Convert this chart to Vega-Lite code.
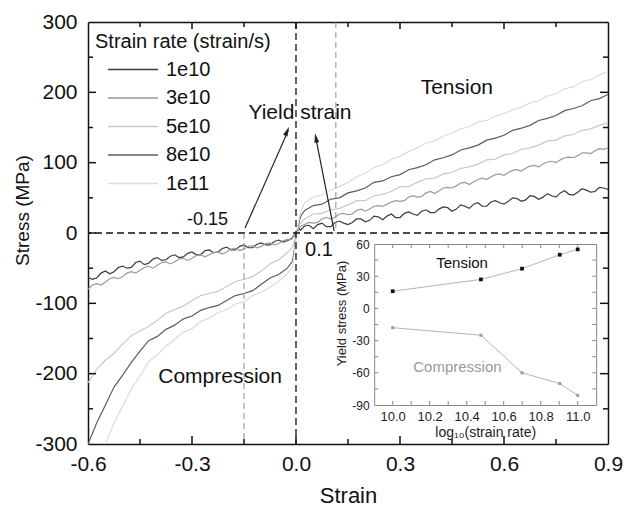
{
  "$schema": "https://vega.github.io/schema/vega-lite/v6.json",
  "width": 520,
  "height": 422,
  "autosize": "none",
  "padding": {"left": 88, "top": 22, "right": 18, "bottom": 62},
  "background": "white",
  "config": {
    "view": {"stroke": null},
    "font": "Liberation Sans",
    "axis": {"grid": false, "ticks": false, "labelFont": "Liberation Sans", "titleFont": "Liberation Sans", "titleFontWeight": "normal", "labelFlush": false, "labelOverlap": false, "labelBound": false},
    "legend": {"labelFont": "Liberation Sans", "titleFont": "Liberation Sans"},
    "tick": {"opacity": 1}
  },
  "datasets": {
    "curves": [
      {"x": -0.6, "1e10": -63, "3e10": -80, "5e10": -213, "8e10": -300, "1e11": -355},
      {"x": -0.5875, "1e10": -66, "3e10": -74},
      {"x": -0.575, "1e10": -64, "3e10": -72, "5e10": -194, "8e10": -270, "1e11": -326},
      {"x": -0.5625, "1e10": -57, "3e10": -74},
      {"x": -0.55, "1e10": -54, "3e10": -70, "5e10": -181, "8e10": -245, "1e11": -300},
      {"x": -0.5375, "1e10": -58, "3e10": -65},
      {"x": -0.525, "1e10": -55, "3e10": -63, "5e10": -171, "8e10": -219, "1e11": -270},
      {"x": -0.5125, "1e10": -49, "3e10": -65},
      {"x": -0.5, "1e10": -47, "3e10": -62, "5e10": -158, "8e10": -202, "1e11": -246},
      {"x": -0.4875, "1e10": -50, "3e10": -57},
      {"x": -0.475, "1e10": -49, "3e10": -55, "5e10": -146, "8e10": -184, "1e11": -222},
      {"x": -0.4625, "1e10": -42, "3e10": -57},
      {"x": -0.45, "1e10": -40, "3e10": -53, "5e10": -139, "8e10": -168, "1e11": -203},
      {"x": -0.4375, "1e10": -45, "3e10": -49},
      {"x": -0.425, "1e10": -43, "3e10": -47, "5e10": -133, "8e10": -153, "1e11": -183},
      {"x": -0.4125, "1e10": -37, "3e10": -50},
      {"x": -0.4, "1e10": -35, "3e10": -46, "5e10": -124, "8e10": -147, "1e11": -173},
      {"x": -0.3875, "1e10": -39, "3e10": -42},
      {"x": -0.375, "1e10": -38, "3e10": -41, "5e10": -114, "8e10": -137, "1e11": -161},
      {"x": -0.3625, "1e10": -33, "3e10": -44},
      {"x": -0.35, "1e10": -31, "3e10": -41, "5e10": -109, "8e10": -131, "1e11": -151},
      {"x": -0.3375, "1e10": -35, "3e10": -37},
      {"x": -0.325, "1e10": -34, "3e10": -36, "5e10": -104, "8e10": -122, "1e11": -141},
      {"x": -0.3125, "1e10": -29, "3e10": -39},
      {"x": -0.3, "1e10": -27, "3e10": -36, "5e10": -96, "8e10": -118, "1e11": -136},
      {"x": -0.2875, "1e10": -31, "3e10": -32},
      {"x": -0.275, "1e10": -31, "3e10": -31, "5e10": -89, "8e10": -110, "1e11": -126},
      {"x": -0.2625, "1e10": -25, "3e10": -34},
      {"x": -0.25, "1e10": -24, "3e10": -31, "5e10": -86, "8e10": -106, "1e11": -121},
      {"x": -0.2375, "1e10": -28, "3e10": -28},
      {"x": -0.225, "1e10": -27, "3e10": -27, "5e10": -83, "8e10": -103, "1e11": -113},
      {"x": -0.2125, "1e10": -22, "3e10": -30},
      {"x": -0.2, "1e10": -20, "3e10": -27, "5e10": -76, "8e10": -96, "1e11": -109},
      {"x": -0.1875, "1e10": -24, "3e10": -23},
      {"x": -0.175, "1e10": -24, "3e10": -22, "5e10": -69, "8e10": -89, "1e11": -101},
      {"x": -0.1625, "1e10": -19, "3e10": -25},
      {"x": -0.15, "1e10": -17, "3e10": -23, "5e10": -66, "8e10": -86, "1e11": -98},
      {"x": -0.1375, "1e10": -21, "3e10": -19},
      {"x": -0.125, "1e10": -21, "3e10": -18, "5e10": -62, "8e10": -82, "1e11": -89},
      {"x": -0.1125, "1e10": -16, "3e10": -21},
      {"x": -0.1, "1e10": -14, "3e10": -19, "5e10": -54, "8e10": -73, "1e11": -84},
      {"x": -0.0875, "1e10": -17, "3e10": -15},
      {"x": -0.075, "1e10": -17, "3e10": -14, "5e10": -44, "8e10": -64, "1e11": -77},
      {"x": -0.0625, "1e10": -12, "3e10": -17},
      {"x": -0.05, "1e10": -10, "3e10": -15, "5e10": -38, "8e10": -59, "1e11": -69},
      {"x": -0.0375, "1e10": -13, "3e10": -11},
      {"x": -0.025, "1e10": -11, "3e10": -9, "5e10": -28, "8e10": -50, "1e11": -58},
      {"x": -0.0125, "1e10": -8, "3e10": -9},
      {"x": -0.01, "1e10": -6, "3e10": -7, "5e10": -20, "8e10": -40, "1e11": -48},
      {"x": -0.005, "1e10": -3, "3e10": -4, "5e10": -12, "8e10": -25, "1e11": -30},
      {"x": 0, "1e10": 0, "3e10": 0, "5e10": -3, "8e10": -3, "1e11": -5},
      {"x": 0.005, "1e10": 3, "3e10": 4, "5e10": 6, "8e10": 8, "1e11": 10},
      {"x": 0.01, "1e10": 6, "3e10": 8, "5e10": 12, "8e10": 18, "1e11": 22},
      {"x": 0.0125, "1e10": 4, "3e10": 9},
      {"x": 0.015, "1e10": 5, "3e10": 10, "5e10": 15, "8e10": 25, "1e11": 32},
      {"x": 0.025, "1e10": 10, "3e10": 12, "5e10": 20, "8e10": 32, "1e11": 43},
      {"x": 0.0375, "1e10": 11, "3e10": 15},
      {"x": 0.05, "1e10": 6, "3e10": 14, "5e10": 27, "8e10": 39, "1e11": 51},
      {"x": 0.0625, "1e10": 12, "3e10": 15},
      {"x": 0.075, "1e10": 14, "3e10": 20, "5e10": 28, "8e10": 41, "1e11": 54},
      {"x": 0.0875, "1e10": 9, "3e10": 22},
      {"x": 0.1, "1e10": 9, "3e10": 20, "5e10": 33, "8e10": 48, "1e11": 61},
      {"x": 0.1125, "1e10": 15, "3e10": 22},
      {"x": 0.125, "1e10": 17, "3e10": 27, "5e10": 35, "8e10": 50, "1e11": 66},
      {"x": 0.1375, "1e10": 14, "3e10": 28},
      {"x": 0.15, "1e10": 12, "3e10": 26, "5e10": 40, "8e10": 57, "1e11": 72},
      {"x": 0.1625, "1e10": 15, "3e10": 27},
      {"x": 0.175, "1e10": 20, "3e10": 32, "5e10": 46, "8e10": 60, "1e11": 80},
      {"x": 0.1875, "1e10": 20, "3e10": 34},
      {"x": 0.2, "1e10": 16, "3e10": 31, "5e10": 46, "8e10": 64, "1e11": 85},
      {"x": 0.2125, "1e10": 18, "3e10": 34},
      {"x": 0.225, "1e10": 24, "3e10": 38, "5e10": 53, "8e10": 72, "1e11": 93},
      {"x": 0.2375, "1e10": 23, "3e10": 39},
      {"x": 0.25, "1e10": 19, "3e10": 38, "5e10": 55, "8e10": 74, "1e11": 97},
      {"x": 0.2625, "1e10": 24, "3e10": 41},
      {"x": 0.275, "1e10": 27, "3e10": 44, "5e10": 59, "8e10": 80, "1e11": 105},
      {"x": 0.2875, "1e10": 22, "3e10": 46},
      {"x": 0.3, "1e10": 22, "3e10": 45, "5e10": 66, "8e10": 83, "1e11": 109},
      {"x": 0.3125, "1e10": 28, "3e10": 46},
      {"x": 0.325, "1e10": 30, "3e10": 51, "5e10": 66, "8e10": 90, "1e11": 116},
      {"x": 0.3375, "1e10": 27, "3e10": 53},
      {"x": 0.35, "1e10": 25, "3e10": 51, "5e10": 72, "8e10": 93, "1e11": 121},
      {"x": 0.3625, "1e10": 31, "3e10": 52},
      {"x": 0.375, "1e10": 33, "3e10": 57, "5e10": 77, "8e10": 97, "1e11": 128},
      {"x": 0.3875, "1e10": 29, "3e10": 59},
      {"x": 0.4, "1e10": 29, "3e10": 56, "5e10": 78, "8e10": 104, "1e11": 131},
      {"x": 0.4125, "1e10": 34, "3e10": 60},
      {"x": 0.425, "1e10": 37, "3e10": 64, "5e10": 84, "8e10": 107, "1e11": 138},
      {"x": 0.4375, "1e10": 36, "3e10": 65},
      {"x": 0.45, "1e10": 31, "3e10": 64, "5e10": 86, "8e10": 111, "1e11": 142},
      {"x": 0.4625, "1e10": 34, "3e10": 67},
      {"x": 0.475, "1e10": 40, "3e10": 71, "5e10": 92, "8e10": 118, "1e11": 148},
      {"x": 0.4875, "1e10": 38, "3e10": 72},
      {"x": 0.5, "1e10": 35, "3e10": 69, "5e10": 94, "8e10": 121, "1e11": 151},
      {"x": 0.5125, "1e10": 41, "3e10": 73},
      {"x": 0.525, "1e10": 43, "3e10": 76, "5e10": 98, "8e10": 125, "1e11": 158},
      {"x": 0.5375, "1e10": 38, "3e10": 78},
      {"x": 0.55, "1e10": 38, "3e10": 76, "5e10": 104, "8e10": 132, "1e11": 160},
      {"x": 0.5625, "1e10": 44, "3e10": 80},
      {"x": 0.575, "1e10": 46, "3e10": 83, "5e10": 105, "8e10": 135, "1e11": 166},
      {"x": 0.5875, "1e10": 43, "3e10": 84},
      {"x": 0.6, "1e10": 41, "3e10": 82, "5e10": 111, "8e10": 139, "1e11": 170},
      {"x": 0.6125, "1e10": 45, "3e10": 86},
      {"x": 0.625, "1e10": 50, "3e10": 89, "5e10": 113, "8e10": 146, "1e11": 175},
      {"x": 0.6375, "1e10": 49, "3e10": 90},
      {"x": 0.65, "1e10": 45, "3e10": 88, "5e10": 119, "8e10": 149, "1e11": 179},
      {"x": 0.6625, "1e10": 47, "3e10": 92},
      {"x": 0.675, "1e10": 53, "3e10": 95, "5e10": 121, "8e10": 153, "1e11": 185},
      {"x": 0.6875, "1e10": 52, "3e10": 96},
      {"x": 0.7, "1e10": 48, "3e10": 94, "5e10": 125, "8e10": 160, "1e11": 188},
      {"x": 0.7125, "1e10": 51, "3e10": 98},
      {"x": 0.725, "1e10": 56, "3e10": 101, "5e10": 131, "8e10": 163, "1e11": 195},
      {"x": 0.7375, "1e10": 53, "3e10": 102},
      {"x": 0.75, "1e10": 51, "3e10": 100, "5e10": 132, "8e10": 167, "1e11": 198},
      {"x": 0.7625, "1e10": 57, "3e10": 104},
      {"x": 0.775, "1e10": 60, "3e10": 107, "5e10": 138, "8e10": 174, "1e11": 205},
      {"x": 0.7875, "1e10": 55, "3e10": 108},
      {"x": 0.8, "1e10": 54, "3e10": 107, "5e10": 140, "8e10": 177, "1e11": 208},
      {"x": 0.8125, "1e10": 58, "3e10": 110},
      {"x": 0.825, "1e10": 63, "3e10": 114, "5e10": 146, "8e10": 181, "1e11": 215},
      {"x": 0.8375, "1e10": 61, "3e10": 114},
      {"x": 0.85, "1e10": 58, "3e10": 113, "5e10": 148, "8e10": 188, "1e11": 218},
      {"x": 0.8625, "1e10": 59, "3e10": 117},
      {"x": 0.875, "1e10": 65, "3e10": 120, "5e10": 153, "8e10": 191, "1e11": 225},
      {"x": 0.8875, "1e10": 64, "3e10": 119},
      {"x": 0.9, "1e10": 62, "3e10": 121, "5e10": 157, "8e10": 197, "1e11": 229}
    ],
    "inset": [
      {"r": 10.0, "type": "Tension", "ys": 16},
      {"r": 10.477, "type": "Tension", "ys": 27},
      {"r": 10.699, "type": "Tension", "ys": 37},
      {"r": 10.903, "type": "Tension", "ys": 50},
      {"r": 11.0, "type": "Tension", "ys": 55},
      {"r": 10.0, "type": "Compression", "ys": -18},
      {"r": 10.477, "type": "Compression", "ys": -25},
      {"r": 10.699, "type": "Compression", "ys": -60},
      {"r": 10.903, "type": "Compression", "ys": -70},
      {"r": 11.0, "type": "Compression", "ys": -81}
    ],
    "xmaj": [{"v": -0.3}, {"v": 0}, {"v": 0.3}, {"v": 0.6}],
    "xmin": [{"v": -0.45}, {"v": -0.15}, {"v": 0.15}, {"v": 0.45}, {"v": 0.75}],
    "ymaj": [{"v": -200}, {"v": -100}, {"v": 0}, {"v": 100}, {"v": 200}],
    "ymin": [{"v": -250}, {"v": -150}, {"v": -50}, {"v": 50}, {"v": 150}, {"v": 250}],
    "ix": [{"v": 10}, {"v": 10.1}, {"v": 10.2}, {"v": 10.3}, {"v": 10.4}, {"v": 10.5}, {"v": 10.6}, {"v": 10.7}, {"v": 10.8}, {"v": 10.9}, {"v": 11}],
    "iy": [{"v": -75}, {"v": -60}, {"v": -45}, {"v": -30}, {"v": -15}, {"v": 0}, {"v": 15}, {"v": 30}, {"v": 45}]
  },
  "layer": [
    {
      "layer": [
        {
          "data": {"name": "curves"},
          "transform": [
            {"fold": ["1e10", "3e10", "5e10", "8e10", "1e11"], "as": ["rate", "stress"]},
            {"filter": "isValid(datum.stress)"}
          ],
          "mark": {"type": "line", "clip": true, "strokeWidth": 1.2, "invalid": "filter"},
          "encoding": {
            "x": {"field": "x", "type": "quantitative",
              "scale": {"domain": [-0.6, 0.9], "nice": false, "zero": false},
              "axis": {"orient": "bottom", "values": [-0.6, -0.3, 0, 0.3, 0.6, 0.9],
                "format": ".1f",
                "labelExpr": "replace(datum.label, '−', '-')",
                "title": "Strain", "titleFontSize": 22, "titleColor": "#111", "titleY": 51, "titleBaseline": "middle",
                "labelFontSize": 21, "labelColor": "#111", "labelPadding": 9,
                "domainColor": "#111", "domainWidth": 1.5, "ticks": false}},
            "y": {"field": "stress", "type": "quantitative",
              "scale": {"domain": [-300, 300], "nice": false, "zero": false},
              "axis": {"orient": "left", "values": [-300, -200, -100, 0, 100, 200, 300],
                "format": "d",
                "labelExpr": "replace(datum.label, '−', '-')",
                "title": "Stress (MPa)", "titleFontSize": 19, "titleColor": "#111", "titleX": -66, "titleY": 188, "titleBaseline": "middle", "titleAngle": -90, "titleAlign": "center",
                "labelFontSize": 21, "labelColor": "#111", "labelPadding": 11,
                "domainColor": "#111", "domainWidth": 1.5, "ticks": false}},
            "color": {"field": "rate", "type": "nominal",
              "scale": {"domain": ["1e10", "3e10", "5e10", "8e10", "1e11"], "range": ["#3c3c3c", "#9a9a9a", "#c9c9c9", "#5c5c5c", "#dcdcdc"]},
              "legend": {"orient": "none", "legendX": 7, "legendY": 10, "title": "Strain rate (strain/s)",
                "titleFontSize": 20, "titleFontWeight": "normal", "titleColor": "#111", "titleLimit": 400,
                "labelFontSize": 20, "labelColor": "#111", "symbolType": "M-2.5,0L2.5,0", "symbolSize": 400,
                "symbolStrokeWidth": 1.5, "rowPadding": 7.5, "titlePadding": 6.5, "padding": 0,
                "symbolOffset": 27, "labelOffset": 22}}
          }
        },
        {
          "data": {"values": [{"y": 0}]},
          "mark": {"type": "rule", "color": "#111", "strokeWidth": 1.3, "strokeDash": [7, 4]},
          "encoding": {"y": {"field": "y", "type": "quantitative", "scale": {"domain": [-300, 300], "nice": false, "zero": false}, "axis": null}}
        },
        {
          "data": {"values": [{"x": 0}]},
          "mark": {"type": "rule", "color": "#111", "strokeWidth": 1.3, "strokeDash": [7, 4]},
          "encoding": {"x": {"field": "x", "type": "quantitative", "scale": {"domain": [-0.6, 0.9], "nice": false, "zero": false}, "axis": null}}
        },
        {
          "data": {"values": [{"x": -0.15, "y": 0, "y2": -300}, {"x": 0.115, "y": 300, "y2": 0}]},
          "mark": {"type": "rule", "color": "#8a8a8a", "strokeWidth": 1, "strokeDash": [6, 4]},
          "encoding": {
            "x": {"field": "x", "type": "quantitative", "scale": {"domain": [-0.6, 0.9], "nice": false, "zero": false},
              "axis": {"orient": "top", "labels": false, "title": null, "ticks": false, "domainColor": "#111", "domainWidth": 1.5}},
            "y": {"field": "y", "type": "quantitative", "scale": {"domain": [-300, 300], "nice": false, "zero": false},
              "axis": {"orient": "right", "labels": false, "title": null, "ticks": false, "domainColor": "#111", "domainWidth": 1.5}},
            "y2": {"field": "y2"}
          }
        },
        {
          "data": {"name": "xmaj"},
          "mark": {"type": "tick", "orient": "vertical", "size": 8, "thickness": 1.5, "color": "#111", "yOffset": -4},
          "encoding": {
            "x": {"field": "v", "type": "quantitative", "scale": {"domain": [-0.6, 0.9], "nice": false, "zero": false}, "axis": null},
            "y": {"datum": -300, "type": "quantitative", "scale": {"domain": [-300, 300], "nice": false, "zero": false}, "axis": null}
          }
        },
        {
          "data": {"name": "xmin"},
          "mark": {"type": "tick", "orient": "vertical", "size": 5, "thickness": 1.5, "color": "#111", "yOffset": -2.5},
          "encoding": {
            "x": {"field": "v", "type": "quantitative", "scale": {"domain": [-0.6, 0.9], "nice": false, "zero": false}, "axis": null},
            "y": {"datum": -300, "type": "quantitative", "scale": {"domain": [-300, 300], "nice": false, "zero": false}, "axis": null}
          }
        },
        {
          "data": {"name": "xmaj"},
          "mark": {"type": "tick", "orient": "vertical", "size": 7, "thickness": 1.5, "color": "#111", "yOffset": 3.5},
          "encoding": {
            "x": {"field": "v", "type": "quantitative", "scale": {"domain": [-0.6, 0.9], "nice": false, "zero": false}, "axis": null},
            "y": {"datum": 300, "type": "quantitative", "scale": {"domain": [-300, 300], "nice": false, "zero": false}, "axis": null}
          }
        },
        {
          "data": {"name": "xmin"},
          "mark": {"type": "tick", "orient": "vertical", "size": 5, "thickness": 1.5, "color": "#111", "yOffset": 2.5},
          "encoding": {
            "x": {"field": "v", "type": "quantitative", "scale": {"domain": [-0.6, 0.9], "nice": false, "zero": false}, "axis": null},
            "y": {"datum": 300, "type": "quantitative", "scale": {"domain": [-300, 300], "nice": false, "zero": false}, "axis": null}
          }
        },
        {
          "data": {"name": "ymaj"},
          "mark": {"type": "tick", "orient": "horizontal", "size": 8, "thickness": 1.5, "color": "#111", "xOffset": 4},
          "encoding": {
            "y": {"field": "v", "type": "quantitative", "scale": {"domain": [-300, 300], "nice": false, "zero": false}, "axis": null},
            "x": {"datum": -0.6, "type": "quantitative", "scale": {"domain": [-0.6, 0.9], "nice": false, "zero": false}, "axis": null}
          }
        },
        {
          "data": {"name": "ymin"},
          "mark": {"type": "tick", "orient": "horizontal", "size": 5, "thickness": 1.5, "color": "#111", "xOffset": 2.5},
          "encoding": {
            "y": {"field": "v", "type": "quantitative", "scale": {"domain": [-300, 300], "nice": false, "zero": false}, "axis": null},
            "x": {"datum": -0.6, "type": "quantitative", "scale": {"domain": [-0.6, 0.9], "nice": false, "zero": false}, "axis": null}
          }
        },
        {
          "data": {"name": "ymaj"},
          "mark": {"type": "tick", "orient": "horizontal", "size": 8, "thickness": 1.5, "color": "#111", "xOffset": -4},
          "encoding": {
            "y": {"field": "v", "type": "quantitative", "scale": {"domain": [-300, 300], "nice": false, "zero": false}, "axis": null},
            "x": {"datum": 0.9, "type": "quantitative", "scale": {"domain": [-0.6, 0.9], "nice": false, "zero": false}, "axis": null}
          }
        },
        {
          "data": {"name": "ymin"},
          "mark": {"type": "tick", "orient": "horizontal", "size": 5, "thickness": 1.5, "color": "#111", "xOffset": -2.5},
          "encoding": {
            "y": {"field": "v", "type": "quantitative", "scale": {"domain": [-300, 300], "nice": false, "zero": false}, "axis": null},
            "x": {"datum": 0.9, "type": "quantitative", "scale": {"domain": [-0.6, 0.9], "nice": false, "zero": false}, "axis": null}
          }
        },
        {
          "data": {"values": [{"x": -0.147, "y": 7, "x2": -0.022, "y2": 146}, {"x": 0.11, "y": 3, "x2": 0.056, "y2": 138}]},
          "mark": {"type": "rule", "color": "#222", "strokeWidth": 1.2},
          "encoding": {
            "x": {"field": "x", "type": "quantitative", "scale": {"domain": [-0.6, 0.9], "nice": false, "zero": false}, "axis": null},
            "y": {"field": "y", "type": "quantitative", "scale": {"domain": [-300, 300], "nice": false, "zero": false}, "axis": null},
            "x2": {"field": "x2"},
            "y2": {"field": "y2"}
          }
        },
        {
          "data": {"values": [{"x": -0.02, "y": 151}]},
          "mark": {"type": "point", "shape": "M0,0L0.6,2.4L-0.6,2.4Z", "size": 64, "filled": true, "color": "#222", "opacity": 1, "angle": 23.5},
          "encoding": {
            "x": {"field": "x", "type": "quantitative", "scale": {"domain": [-0.6, 0.9], "nice": false, "zero": false}, "axis": null},
            "y": {"field": "y", "type": "quantitative", "scale": {"domain": [-300, 300], "nice": false, "zero": false}, "axis": null}
          }
        },
        {
          "data": {"values": [{"x": 0.0548, "y": 142}]},
          "mark": {"type": "point", "shape": "M0,0L0.6,2.4L-0.6,2.4Z", "size": 64, "filled": true, "color": "#222", "opacity": 1, "angle": -11},
          "encoding": {
            "x": {"field": "x", "type": "quantitative", "scale": {"domain": [-0.6, 0.9], "nice": false, "zero": false}, "axis": null},
            "y": {"field": "y", "type": "quantitative", "scale": {"domain": [-300, 300], "nice": false, "zero": false}, "axis": null}
          }
        },
        {
          "data": {"values": [
            {"label": "Yield strain", "x": 0.0115, "y": 170},
            {"label": "Tension", "x": 0.464, "y": 206},
            {"label": "Compression", "x": -0.219, "y": -205}
          ]},
          "mark": {"type": "text", "fontSize": 21, "color": "#111", "align": "center", "baseline": "middle"},
          "encoding": {
            "x": {"field": "x", "type": "quantitative", "scale": {"domain": [-0.6, 0.9], "nice": false, "zero": false}, "axis": null},
            "y": {"field": "y", "type": "quantitative", "scale": {"domain": [-300, 300], "nice": false, "zero": false}, "axis": null},
            "text": {"field": "label"}
          }
        },
        {
          "data": {"values": [{"label": "-0.15", "x": -0.196, "y": 18.5}]},
          "mark": {"type": "text", "fontSize": 18, "color": "#111", "align": "right", "baseline": "middle"},
          "encoding": {
            "x": {"field": "x", "type": "quantitative", "scale": {"domain": [-0.6, 0.9], "nice": false, "zero": false}, "axis": null},
            "y": {"field": "y", "type": "quantitative", "scale": {"domain": [-300, 300], "nice": false, "zero": false}, "axis": null},
            "text": {"field": "label"}
          }
        },
        {
          "data": {"values": [{"label": "0.1", "x": 0.026, "y": -24}]},
          "mark": {"type": "text", "fontSize": 20, "color": "#111", "align": "left", "baseline": "middle"},
          "encoding": {
            "x": {"field": "x", "type": "quantitative", "scale": {"domain": [-0.6, 0.9], "nice": false, "zero": false}, "axis": null},
            "y": {"field": "y", "type": "quantitative", "scale": {"domain": [-300, 300], "nice": false, "zero": false}, "axis": null},
            "text": {"field": "label"}
          }
        }
      ],
      "resolve": {"axis": {"x": "independent", "y": "independent"}}
    },
    {
      "layer": [
        {
          "data": {"name": "inset"},
          "mark": {"type": "line", "color": "#b5b5b5", "strokeWidth": 1},
          "encoding": {
            "x": {"field": "r", "type": "quantitative",
              "scale": {"domain": [9.9, 11.1], "range": [286.2, 508.2], "nice": false, "zero": false},
              "axis": {"orient": "bottom", "offset": -39, "values": [10, 10.2, 10.4, 10.6, 10.8, 11],
                "format": ".1f",
                "title": "log₁₀(strain rate)", "titleFontSize": 14, "titleColor": "#222", "titleY": 27, "titleBaseline": "middle",
                "labelFontSize": 13, "labelColor": "#222", "labelPadding": 5,
                "domainColor": "#888", "domainWidth": 1, "ticks": false}},
            "y": {"field": "ys", "type": "quantitative",
              "scale": {"domain": [-90, 60], "range": [383, 222], "nice": false, "zero": false},
              "axis": {"orient": "left", "offset": -286.2, "values": [-90, -60, -30, 0, 30, 60],
                "format": "d",
                "labelExpr": "replace(datum.label, '−', '-')",
                "title": "Yield stress (MPa)", "titleFontSize": 13, "titleColor": "#222", "titleX": -33, "titleY": 291, "titleBaseline": "middle", "titleAngle": -90, "titleAlign": "center",
                "labelFontSize": 12, "labelColor": "#222", "labelPadding": 5,
                "domainColor": "#888", "domainWidth": 1, "ticks": false}},
            "detail": {"field": "type"}
          }
        },
        {
          "data": {"name": "inset"},
          "transform": [{"filter": "datum.type === 'Tension'"}],
          "mark": {"type": "point", "shape": "square", "size": 14, "filled": true, "color": "#111", "opacity": 1},
          "encoding": {
            "x": {"field": "r", "type": "quantitative",
              "scale": {"domain": [9.9, 11.1], "range": [286.2, 508.2], "nice": false, "zero": false},
              "axis": {"orient": "top", "offset": -222, "labels": false, "title": null, "ticks": false, "domainColor": "#888", "domainWidth": 1}},
            "y": {"field": "ys", "type": "quantitative",
              "scale": {"domain": [-90, 60], "range": [383, 222], "nice": false, "zero": false},
              "axis": {"orient": "right", "offset": -11.8, "labels": false, "title": null, "ticks": false, "domainColor": "#888", "domainWidth": 1}}
          }
        },
        {
          "data": {"name": "inset"},
          "transform": [{"filter": "datum.type === 'Compression'"}],
          "mark": {"type": "point", "shape": "square", "size": 9, "filled": true, "color": "#999", "opacity": 1},
          "encoding": {
            "x": {"field": "r", "type": "quantitative", "scale": {"domain": [9.9, 11.1], "range": [286.2, 508.2], "nice": false, "zero": false}, "axis": null},
            "y": {"field": "ys", "type": "quantitative", "scale": {"domain": [-90, 60], "range": [383, 222], "nice": false, "zero": false}, "axis": null}
          }
        },
        {
          "data": {"name": "ix"},
          "mark": {"type": "tick", "orient": "vertical", "size": 4, "thickness": 1, "color": "#888", "yOffset": -2},
          "encoding": {
            "x": {"field": "v", "type": "quantitative", "scale": {"domain": [9.9, 11.1], "range": [286.2, 508.2], "nice": false, "zero": false}, "axis": null},
            "y": {"datum": -90, "type": "quantitative", "scale": {"domain": [-90, 60], "range": [383, 222], "nice": false, "zero": false}, "axis": null}
          }
        },
        {
          "data": {"name": "ix"},
          "mark": {"type": "tick", "orient": "vertical", "size": 4, "thickness": 1, "color": "#888", "yOffset": 2},
          "encoding": {
            "x": {"field": "v", "type": "quantitative", "scale": {"domain": [9.9, 11.1], "range": [286.2, 508.2], "nice": false, "zero": false}, "axis": null},
            "y": {"datum": 60, "type": "quantitative", "scale": {"domain": [-90, 60], "range": [383, 222], "nice": false, "zero": false}, "axis": null}
          }
        },
        {
          "data": {"name": "iy"},
          "mark": {"type": "tick", "orient": "horizontal", "size": 4, "thickness": 1, "color": "#888", "xOffset": 2},
          "encoding": {
            "y": {"field": "v", "type": "quantitative", "scale": {"domain": [-90, 60], "range": [383, 222], "nice": false, "zero": false}, "axis": null},
            "x": {"datum": 9.9, "type": "quantitative", "scale": {"domain": [9.9, 11.1], "range": [286.2, 508.2], "nice": false, "zero": false}, "axis": null}
          }
        },
        {
          "data": {"name": "iy"},
          "mark": {"type": "tick", "orient": "horizontal", "size": 4, "thickness": 1, "color": "#888", "xOffset": -2},
          "encoding": {
            "y": {"field": "v", "type": "quantitative", "scale": {"domain": [-90, 60], "range": [383, 222], "nice": false, "zero": false}, "axis": null},
            "x": {"datum": 11.1, "type": "quantitative", "scale": {"domain": [9.9, 11.1], "range": [286.2, 508.2], "nice": false, "zero": false}, "axis": null}
          }
        },
        {
          "data": {"values": [{"label": "Tension", "r": 10.375, "ys": 42}]},
          "mark": {"type": "text", "fontSize": 15, "color": "#111", "align": "center", "baseline": "middle"},
          "encoding": {
            "x": {"field": "r", "type": "quantitative", "scale": {"domain": [9.9, 11.1], "range": [286.2, 508.2], "nice": false, "zero": false}, "axis": null},
            "y": {"field": "ys", "type": "quantitative", "scale": {"domain": [-90, 60], "range": [383, 222], "nice": false, "zero": false}, "axis": null},
            "text": {"field": "label"}
          }
        },
        {
          "data": {"values": [{"label": "Compression", "r": 10.35, "ys": -55}]},
          "mark": {"type": "text", "fontSize": 15, "color": "#9a9a9a", "align": "center", "baseline": "middle"},
          "encoding": {
            "x": {"field": "r", "type": "quantitative", "scale": {"domain": [9.9, 11.1], "range": [286.2, 508.2], "nice": false, "zero": false}, "axis": null},
            "y": {"field": "ys", "type": "quantitative", "scale": {"domain": [-90, 60], "range": [383, 222], "nice": false, "zero": false}, "axis": null},
            "text": {"field": "label"}
          }
        }
      ],
      "resolve": {"axis": {"x": "independent", "y": "independent"}}
    }
  ],
  "resolve": {"scale": {"x": "independent", "y": "independent"}, "axis": {"x": "independent", "y": "independent"}}
}
